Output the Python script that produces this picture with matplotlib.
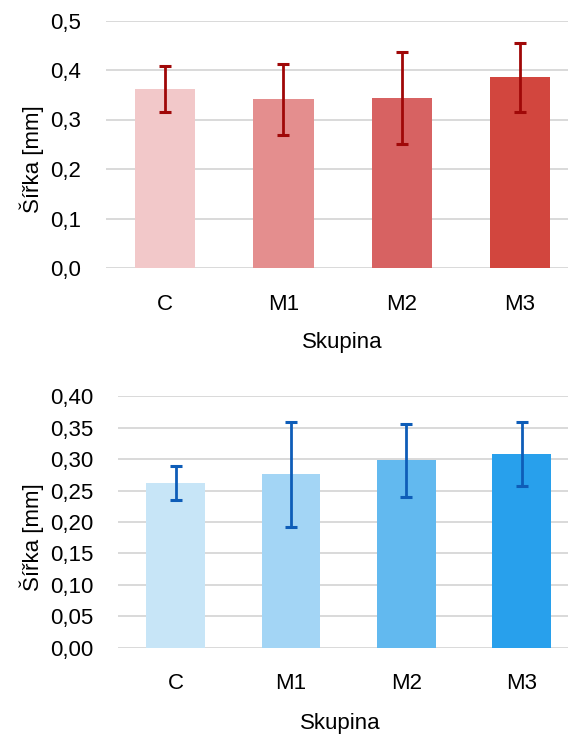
#!/usr/bin/env python3
"""Bar charts of mean width per group with standard deviation error bars."""

from __future__ import annotations

import matplotlib

matplotlib.use("Agg")

import matplotlib.pyplot as plt
from matplotlib.ticker import FuncFormatter


GROUPS = ["C", "M1", "M2", "M3"]

# upper panel (red)
TOP_MEANS = [0.362, 0.341, 0.343, 0.385]
TOP_ERRORS = [0.047, 0.072, 0.093, 0.069]
TOP_TICKS = [0.0, 0.1, 0.2, 0.3, 0.4, 0.5]

# lower panel (blue)
BOTTOM_MEANS = [0.262, 0.276, 0.298, 0.308]
BOTTOM_ERRORS = [0.027, 0.084, 0.058, 0.051]
BOTTOM_TICKS = [0.00, 0.05, 0.10, 0.15, 0.20, 0.25, 0.30, 0.35, 0.40]

TOP_COLORS = ["#F2C8C9", "#E48E8E", "#D76262", "#D2463E"]
TOP_ERR_COLOR = "#A00808"
BOTTOM_COLORS = ["#C7E5F7", "#A3D5F5", "#62B9EF", "#28A0EC"]
BOTTOM_ERR_COLOR = "#0E5DB8"

FIG_W, FIG_H = 568, 737
FONT_SIZE = 16


def draw_panel(ax, means, errors, colors, err_color, ticks, decimals):
    """Draw one bar panel in the spreadsheet look."""
    x = list(range(len(GROUPS)))
    ax.bar(x, means, width=0.51, color=colors, zorder=2)
    ax.errorbar(
        x,
        means,
        yerr=errors,
        fmt="none",
        ecolor=err_color,
        elinewidth=2.0,
        capsize=4.5,
        capthick=2.2,
        zorder=3,
    )
    ax.set_xlim(-0.5, len(GROUPS) - 0.5)
    ax.set_ylim(ticks[0], ticks[-1])
    ax.set_yticks(ticks)
    ax.yaxis.set_major_formatter(
        FuncFormatter(lambda v, _: f"{v:.{decimals}f}".replace(".", ","))
    )
    ax.set_xticks(x)
    ax.set_xticklabels(GROUPS)
    ax.tick_params(axis="both", length=0, labelsize=FONT_SIZE, colors="#000000")
    ax.tick_params(axis="y", pad=18)
    ax.tick_params(axis="x", pad=18.5)
    ax.grid(axis="y", color="#D9D9D9", linewidth=1.4, zorder=0)
    ax.set_axisbelow(True)
    for spine in ax.spines.values():
        spine.set_visible(False)


def main() -> int:
    plt.rcParams["font.family"] = ["Liberation Sans", "DejaVu Sans"]

    fig = plt.figure(figsize=(FIG_W / 100, FIG_H / 100), dpi=100)

    def px_axes(left, top, right, bottom):
        return fig.add_axes(
            [left / FIG_W, 1 - bottom / FIG_H, (right - left) / FIG_W, (bottom - top) / FIG_H]
        )

    ax_top = px_axes(106.0, 20.5, 579.2, 268.0)
    draw_panel(ax_top, TOP_MEANS, TOP_ERRORS, TOP_COLORS, TOP_ERR_COLOR, TOP_TICKS, 1)

    ax_bottom = px_axes(118.1, 396.4, 579.4, 647.7)
    draw_panel(
        ax_bottom, BOTTOM_MEANS, BOTTOM_ERRORS, BOTTOM_COLORS, BOTTOM_ERR_COLOR, BOTTOM_TICKS, 2
    )

    for y_label in (159.5, 537.5):
        fig.text(31.7 / FIG_W, 1 - y_label / FIG_H, "Šířka [mm]", rotation=90,
                 ha="center", va="center", fontsize=FONT_SIZE)
    fig.text(342.7 / FIG_W, 1 - 342.3 / FIG_H, "Skupina", ha="center", va="center",
             fontsize=FONT_SIZE)
    fig.text(340.7 / FIG_W, 1 - 723.3 / FIG_H, "Skupina", ha="center", va="center",
             fontsize=FONT_SIZE)

    fig.savefig("out.png", dpi=100, facecolor="white")
    plt.close(fig)
    return 0


if __name__ == "__main__":
    raise SystemExit(main())
